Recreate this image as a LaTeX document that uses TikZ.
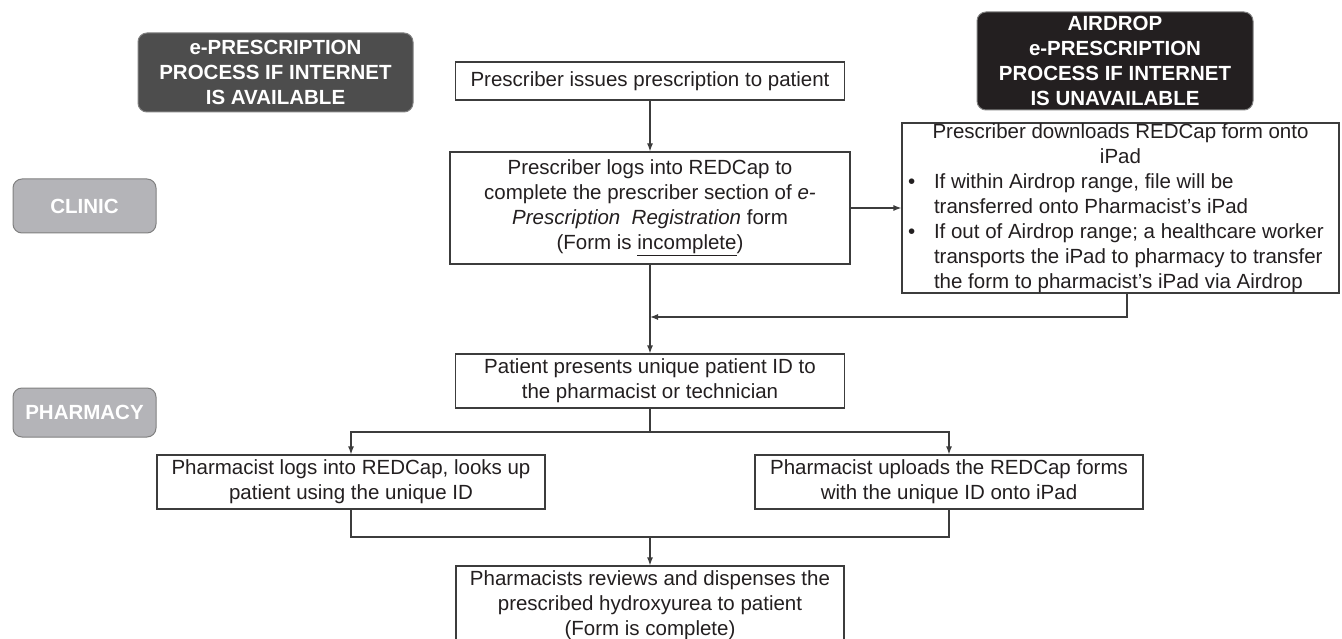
\documentclass[tikz,border=0pt]{standalone}
\usepackage{fontspec}
\setmainfont{Liberation Sans}
\usetikzlibrary{shapes,arrows.meta}
\newcommand{\flowfont}{\fontsize{20.5}{25}\selectfont}
\definecolor{linegray}{HTML}{3C3C3C}
\definecolor{headdark}{HTML}{4D4D4D}
\definecolor{headblack}{HTML}{231F20}
\definecolor{tabgray}{HTML}{B4B4B8}
\definecolor{rimgray}{HTML}{808080}

\begin{document}
\begin{tikzpicture}[x=1pt,y=-1pt,
                every path/.style={>={Latex[length=8pt,width=6pt]}},
                stepbox/.style={draw=linegray,line width=1.2pt,fill=white,align=center,inner sep=2pt,text=headblack,font=\flowfont},
                headbox/.style={rounded corners=9pt,line width=1pt,align=center,inner sep=1pt,text=white,font=\flowfont\bfseries},
                tabbox/.style={headbox,fill=tabgray,draw=rimgray},
                link/.style={draw=linegray,line width=1.2pt}]
  \useasboundingbox (0,0) rectangle (1342,639);
  % headings and lane tabs
  \node[headbox,fill=headdark,draw=rimgray,minimum width=275pt,minimum height=79pt] (online) at (275.5,72.5) {e-PRESCRIPTION\\PROCESS IF INTERNET\\IS AVAILABLE};
  \node[headbox,fill=headblack,draw=rimgray,minimum width=276pt,minimum height=98pt] (offline) at (1115,61) {AIRDROP\\e-PRESCRIPTION\\PROCESS IF INTERNET\\IS UNAVAILABLE};
  \node[tabbox,minimum width=143pt,minimum height=54pt] (clinic) at (84.5,206) {CLINIC};
  \node[tabbox,minimum width=143pt,minimum height=49pt] (pharmacy) at (84.5,412.5) {PHARMACY};
  % steps
  \node[stepbox,minimum width=389pt,minimum height=38pt] (issue) at (650,81) {Prescriber issues prescription to patient};
  \node[stepbox,minimum width=400pt,minimum height=112pt] (login) at (650,208) {Prescriber logs into REDCap to\\complete the prescriber section of \textit{e-}\\\textit{Prescription\ \ Registration} form\\(Form is \underline{incomplete})};
  \node[stepbox,minimum width=437pt,minimum height=170pt,inner sep=0pt,align=left,font=\fontsize{20.5}{25}\selectfont] (airdrop) at (1120.5,208) {%
    \makebox[431pt][c]{Prescriber downloads REDCap form onto}\\
    \makebox[431pt][c]{iPad}\\
    \makebox[431pt][l]{\hspace*{3pt}\makebox[26pt][l]{\textbullet}If within Airdrop range, file will be}\\
    \makebox[431pt][l]{\hspace*{29pt}transferred onto Pharmacist’s iPad}\\
    \makebox[431pt][l]{\hspace*{3pt}\makebox[26pt][l]{\textbullet}If out of Airdrop range; a healthcare worker}\\
    \makebox[431pt][l]{\hspace*{29pt}transports the iPad to pharmacy to transfer}\\
    \makebox[431pt][l]{\hspace*{29pt}the form to pharmacist’s iPad via Airdrop}};
  \node[stepbox,minimum width=389pt,minimum height=54pt] (present) at (650,381) {Patient presents unique patient ID to\\the pharmacist or technician};
  \node[stepbox,minimum width=388pt,minimum height=54pt] (lookup) at (351,482) {Pharmacist logs into REDCap, looks up\\patient using the unique ID};
  \node[stepbox,minimum width=388pt,minimum height=54pt] (upload) at (949,482) {Pharmacist uploads the REDCap forms\\with the unique ID onto iPad};
  \node[stepbox,minimum width=388pt,minimum height=78pt] (dispense) at (650,605) {Pharmacists reviews and dispenses the\\prescribed hydroxyurea to patient\\(Form is complete)};
  % connectors
  \coordinate (rejoin) at (650,317);
  \coordinate (split) at (650,432);
  \coordinate (merge) at (650,537);
  \draw[link,->] (issue) -- (login);
  \draw[link,->] (login) -- (airdrop);
  \draw[link,->] ([xshift=6.5pt]airdrop.south) |- (rejoin);
  \draw[link,->] (login) -- (present);
  \draw[link] (present) -- (split);
  \draw[link,->] (split) -| (lookup);
  \draw[link,->] (split) -| (upload);
  \draw[link] (lookup) |- (merge);
  \draw[link] (upload) |- (merge);
  \draw[link,->] (merge) -- (dispense);
\end{tikzpicture}
\end{document}
